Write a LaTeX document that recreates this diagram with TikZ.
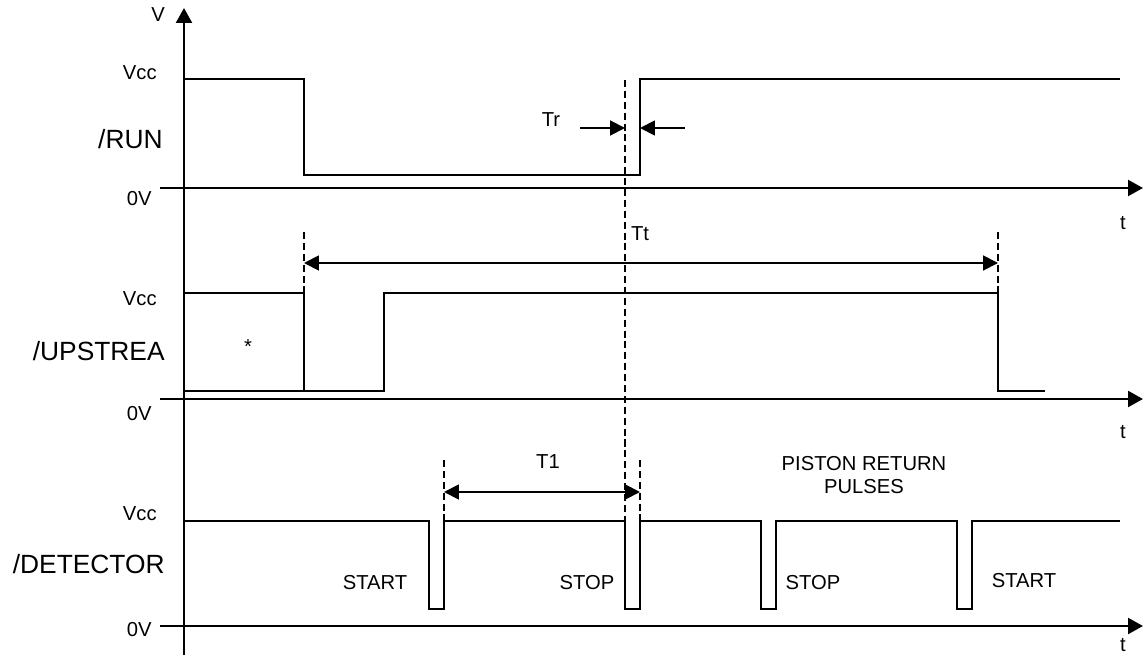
\documentclass[tikz,border=0pt]{standalone}
\usepackage{fontspec}
\setmainfont{Liberation Sans}
\usepackage{tikz}
\usetikzlibrary{arrows.meta, positioning}

\begin{document}
\begin{tikzpicture}[
    x=0.02cm, y=-0.02cm,
    axis/.style={line width=1.5pt, -{Triangle[length=8.5pt, width=9pt]}},
    signal/.style={line width=0.85pt},
    guide/.style={line width=1.1pt, dash pattern=on 4pt off 2.2pt},
    dim/.style={line width=1.1pt, -{Triangle[length=8.5pt, width=8.5pt]}},
    dimboth/.style={line width=1.1pt, {Triangle[length=8.5pt, width=8.5pt]}-{Triangle[length=8.5pt, width=8.5pt]}},
    lbl/.style={font=\fontsize{11.5}{13}\selectfont, inner sep=0pt},
    sig/.style={font=\fontsize{15}{17}\selectfont, inner sep=0pt, anchor=east}
]
\useasboundingbox (0,0) rectangle (1145,655);

% === AXES ===
\coordinate (v-bot) at (184,655);
\coordinate (v-top) at (184,8);
\draw[axis] (v-bot) -- (v-top);
\node[lbl] (vlab) at (158,15) {V};
\foreach \name/\y in {run/188, up/399, det/626} {
    \coordinate (\name-l) at (160,\y);
    \coordinate (\name-r) at (1143,\y);
    \draw[axis] (\name-l) -- (\name-r);
}
\node[lbl] (t1) at (1123,223) {t};
\node[lbl] (t2) at (1123,432) {t};
\node[lbl] (t3) at (1123,645) {t};

% === /RUN ===
\node[sig] (runlab) at (163,139) {/RUN};
\node[lbl, anchor=east] (runvcc) at (157,73) {Vcc};
\node[lbl, anchor=east] (run0v) at (152,199) {0V};
\draw[signal] (185,79) -- (304,79) -- (304,175) -- (640,175) -- (640,79) -- (1120,79);
\coordinate (tr-a) at (580,128);
\coordinate (tr-b) at (625,128);
\coordinate (tr-c) at (685,128);
\coordinate (tr-d) at (640,128);
\draw[dim] (tr-a) -- (tr-b);
\draw[dim] (tr-c) -- (tr-d);
\node[lbl] (trlab) at (551,120) {Tr};

% === /UPSTREA ===
\node[sig] (uplab) at (165,351) {/UPSTREA};
\node[lbl, anchor=east] (upvcc) at (157,299) {Vcc};
\node[lbl, anchor=east] (up0v) at (152,414) {0V};
\draw[signal] (185,293) -- (304,293) -- (304,391);
\draw[signal] (185,391) -- (384,391) -- (384,293) -- (998,293) -- (998,391) -- (1045,391);
\node[lbl] (star) at (248,347) {*};
\coordinate (tt-l) at (304,263);
\coordinate (tt-r) at (998,263);
\draw[dimboth] (tt-l) -- (tt-r);
\node[lbl] (ttlab) at (640,234) {Tt};

% === /DETECTOR ===
\node[sig] (detlab) at (165,564) {/DETECTOR};
\node[lbl, anchor=east] (detvcc) at (157,514) {Vcc};
\node[lbl, anchor=east] (det0v) at (152,630) {0V};
\draw[signal] (185,521) -- (429,521) -- (429,609) -- (444,609) -- (444,521)
    -- (625,521) -- (625,609) -- (640,609) -- (640,521)
    -- (761,521) -- (761,609) -- (776,609) -- (776,521)
    -- (957,521) -- (957,609) -- (972,609) -- (972,521) -- (1120,521);
\coordinate (t1-l) at (444,492);
\coordinate (t1-r) at (640,492);
\draw[dimboth] (t1-l) -- (t1-r);
\node[lbl] (t1lab) at (548,462) {T1};
\node[lbl] (start1) at (375,583) {START};
\node[lbl] (stop1) at (587,583) {STOP};
\node[lbl] (stop2) at (813,583) {STOP};
\node[lbl] (start2) at (1024,581) {START};
\node[lbl, align=center] (piston) at (864,475) {PISTON RETURN\\PULSES};

% === GUIDES ===
\draw[guide] (625,80) -- (625,521);
\draw[guide] (304,232) -- (304,293);
\draw[guide] (998,232) -- (998,293);
\draw[guide] (444,460) -- (444,521);
\draw[guide] (640,460) -- (640,521);

\end{tikzpicture}
\end{document}
